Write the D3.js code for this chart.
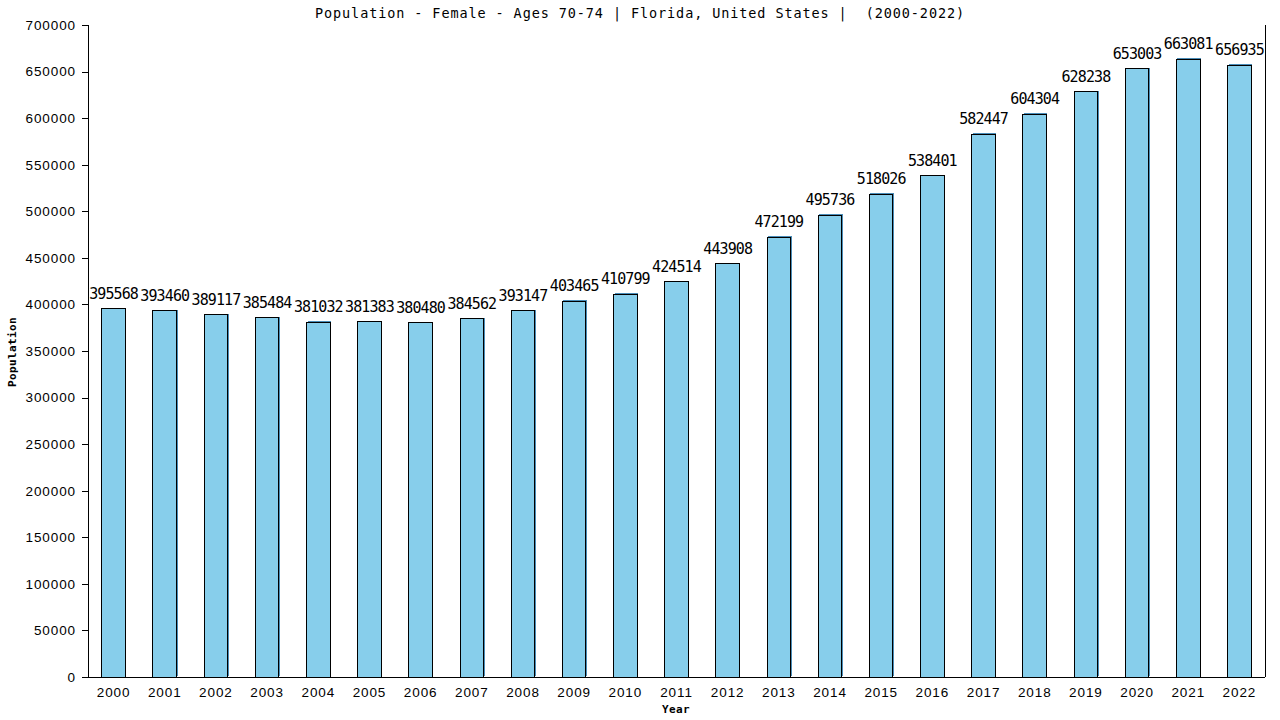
<!DOCTYPE html>
<html lang="en">
  <head>
    <meta charset="UTF-8">
    <title>Population - Female - Ages 70-74 | Florida</title>
    <style>
    * {
      box-sizing: border-box;
      margin: 0;
      padding: 0;
    }

    body {
      background: #fff;
    }

    svg {
      display: block;
      font-family: "DejaVu Sans Mono", monospace;
    }

    .axis line,
    .axis path {
      stroke: #000;
      shape-rendering: crispEdges;
    }

    .axis text {
      font-size: 13.5px;
      letter-spacing: 0.9px;
      fill: #000;
    }

    .bar {
      fill: #87ceeb;
      stroke: #000;
      stroke-width: 1px;
      shape-rendering: crispEdges;
    }

    .shadow {
      fill: #4a8db8;
      shape-rendering: crispEdges;
    }

    .value {
      font-size: 15px;
      letter-spacing: -0.9px;
      text-anchor: middle;
      fill: #000;
    }

    .title {
      white-space: pre;
    }
    </style>
  </head>
  <body>
    <svg width="1280" height="720"></svg>
    <script src="https://d3js.org/d3.v7.min.js"></script>
    <script>
      const years = ["2000", "2001", "2002", "2003", "2004", "2005", "2006", "2007",
        "2008", "2009", "2010", "2011", "2012", "2013", "2014", "2015", "2016",
        "2017", "2018", "2019", "2020", "2021", "2022"];
      const population = [395568, 393460, 389117, 385484, 381032, 381383, 380480,
        384562, 393147, 403465, 410799, 424514, 443908, 472199, 495736, 518026,
        538401, 582447, 604304, 628238, 653003, 663081, 656935];
      const yTicks = [0, 50000, 100000, 150000, 200000, 250000, 300000, 350000,
        400000, 450000, 500000, 550000, 600000, 650000, 700000];

      const title = "Population - Female - Ages 70-74 | Florida, United States |  (2000-2022)";

      const plot = { left: 88, right: 1265, top: 25, bottom: 677 };
      const svg = d3.select("svg");

      const x = d3.scaleBand()
        .domain(years)
        .range([plot.left, plot.right])
        .paddingInner(0.54)
        .paddingOuter(0.27);

      const y = d3.scaleLinear()
        .domain([0, 700000])
        .range([plot.bottom, plot.top]);

      // title
      svg.append("text")
        .attr("class", "title")
        .attr("x", 640)
        .attr("y", 18)
        .attr("text-anchor", "middle")
        .style("font-size", "13.5px")
        .style("letter-spacing", "0.9px")
        .text(title);

      // bars, with a thin shadow edge to the top right
      const bars = svg.append("g");
      bars.selectAll(".shadow")
        .data(population)
        .enter().append("rect")
        .attr("class", "shadow")
        .attr("x", (d, i) => x(years[i]) + 1)
        .attr("y", d => y(d) - 1)
        .attr("width", x.bandwidth())
        .attr("height", d => y(0) - y(d));

      bars.selectAll(".bar")
        .data(population)
        .enter().append("rect")
        .attr("class", "bar")
        .attr("x", (d, i) => x(years[i]))
        .attr("y", d => y(d))
        .attr("width", x.bandwidth())
        .attr("height", d => y(0) - y(d));

      bars.selectAll(".value")
        .data(population)
        .enter().append("text")
        .attr("class", "value")
        .attr("x", (d, i) => x(years[i]) + x.bandwidth() / 2)
        .attr("y", d => y(d) - 10)
        .text(d => d);

      // axes
      svg.append("g")
        .attr("class", "axis")
        .attr("transform", `translate(${plot.left},0)`)
        .call(d3.axisLeft(y).tickValues(yTicks).tickSize(6).tickPadding(6).tickFormat(d3.format("d")))
        .call(g => g.select(".domain").attr("d", `M0,${plot.top}V${plot.bottom}`));

      svg.append("g")
        .attr("class", "axis")
        .attr("transform", `translate(0,${plot.bottom})`)
        .call(d3.axisBottom(x).tickSize(0).tickPadding(8))
        .call(g => g.select(".domain").attr("d", `M${plot.left},0H${plot.right}`))
        .call(g => g.selectAll("text").attr("dy", "0.9em"));

      svg.append("line")
        .attr("x1", plot.right).attr("x2", plot.right)
        .attr("y1", plot.top).attr("y2", plot.bottom)
        .attr("stroke", "#000")
        .style("shape-rendering", "crispEdges");

      // axis titles
      svg.append("text")
        .attr("transform", "translate(16,352) rotate(-90)")
        .attr("text-anchor", "middle")
        .style("font-size", "11px")
        .style("font-weight", "bold")
        .style("letter-spacing", "0.4px")
        .text("Population");

      svg.append("text")
        .attr("x", 676)
        .attr("y", 713)
        .attr("text-anchor", "middle")
        .style("font-size", "11px")
        .style("font-weight", "bold")
        .style("letter-spacing", "0.4px")
        .text("Year");
    </script>
  </body>
</html>
